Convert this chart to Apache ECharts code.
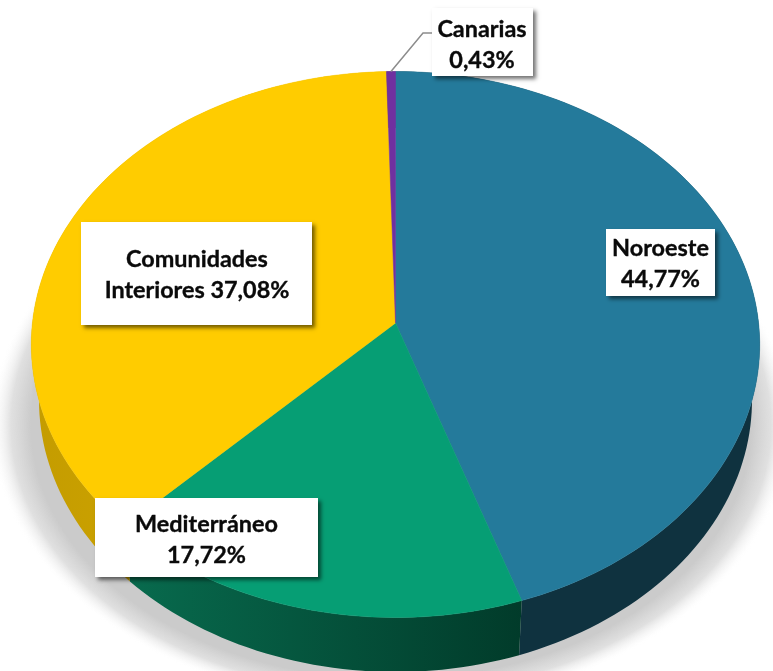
<!DOCTYPE html>
<html><head><meta charset="utf-8">
<style>html,body{margin:0;padding:0;background:#fff}#c{width:773px;height:671px}</style>
<script src="https://cdn.jsdelivr.net/npm/echarts@6/dist/echarts.min.js"></script>
</head><body><div id="c"></div>
<script>
const categories = ['Noroeste', 'Mediterráneo', 'Comunidades Interiores', 'Canarias'];
const values = [44.77, 17.72, 37.08, 0.43];
const labelLines = [['Noroeste', '44,77%'], ['Mediterráneo', '17,72%'], ['Comunidades', 'Interiores 37,08%'], ['Canarias', '0,43%']];
const topColors = ['#247A9B', '#069E74', '#FFCC00', '#7030A0'];
const sideColors = [['#0F323F', '#0F323F'], ['#086B4E', '#013B2A'], ['#C49C00', '#DDB000'], ['#3C1A56', '#3C1A56']];
const boxes = [[606, 229, 109, 67], [95, 498, 223, 79], [81, 222, 231, 103], [432, 8, 101, 68]];
const textCentres = [[660.5, 264], [206.5, 539.5], [197, 275], [482, 44.5]];

const T = {cx: 395.5, cy: 344.5, rx: 364.2, ry: 273, apexY: 323};
const B = {cx: 395.5, cy: 400, rx: 356.5, ry: 272};
const total = values.reduce((a, b) => a + b, 0);
let run = 0;
const spans = values.map(v => { const s = [run / total * 360, (run + v) / total * 360]; run += v; return s; });
const rad = d => d * Math.PI / 180;
function phiOf(deg) {
  const a = (T.cy - T.apexY) / T.ry, s = Math.sin(rad(deg)), c = Math.cos(rad(deg));
  const b = a * c, t = -b + Math.sqrt(b * b + 1 - a * a);
  return Math.atan2(t * s, a + t * c);
}
const onEllipse = (E, phi) => [E.cx + E.rx * Math.sin(phi), E.cy - E.ry * Math.cos(phi)];
function arc(i) {
  const [a, b] = spans[i], out = [], n = Math.max(2, Math.ceil((b - a) / 1.5));
  let last = null;
  for (let k = 0; k <= n; k++) {
    let p = phiOf(a + (b - a) * k / n);
    if (last !== null) { while (p < last - 1e-6) p += 2 * Math.PI; }
    last = p; out.push(p);
  }
  return out;
}
const idx = categories.map((_, i) => i);
const none = {coordinateSystem: 'none', silent: true, animation: false, clip: false};
const chart = echarts.init(document.getElementById('c'), null, {renderer: 'canvas'});
chart.setOption({
  animation: false,
  series: [
    {...none, type: 'custom', z: 1, data: [0], renderItem: () => ({
      type: 'circle', shape: {cx: 0, cy: 0, r: 100}, x: 391, y: 425, scaleX: 4.0, scaleY: 2.82,
      style: {fill: new echarts.graphic.RadialGradient(0.5, 0.5, 0.5, [
        {offset: 0, color: 'rgba(203,203,203,1)'}, {offset: 0.90, color: 'rgba(203,203,203,1)'},
        {offset: 0.95, color: 'rgba(212,212,212,0.72)'}, {offset: 0.98, color: 'rgba(235,235,235,0.3)'}, {offset: 1, color: 'rgba(255,255,255,0)'}])}
    })},
    {...none, type: 'custom', z: 2, data: idx, renderItem: (p, api) => {
      const i = api.value(0), ph = arc(i);
      const pts = ph.map(f => onEllipse(T, f)).concat(ph.slice().reverse().map(f => onEllipse(B, f)));
      const [c0, c1] = sideColors[i];
      return {type: 'polygon', shape: {points: pts}, style: {
        fill: new echarts.graphic.LinearGradient(0, 0, 1, 0, [{offset: 0, color: c0}, {offset: 1, color: c1}])}};
    }},
    {...none, type: 'custom', z: 3, data: idx, renderItem: (p, api) => {
      const i = api.value(0);
      const pts = [[T.cx, T.apexY]].concat(arc(i).map(f => onEllipse(T, f)));
      return {type: 'polygon', shape: {points: pts}, style: {fill: topColors[i], stroke: topColors[i], lineWidth: 0.5}};
    }},
    {...none, type: 'custom', z: 4, data: [0], renderItem: () => ({
      type: 'polyline', shape: {points: [onEllipse(T, phiOf(spans[3][0] + (spans[3][1] - spans[3][0]) / 2)), [423, 33], [432, 33]]},
      style: {stroke: '#8C8C8C', lineWidth: 1.5, fill: 'none'}
    })},
    {...none, type: 'custom', z: 5, data: idx, renderItem: (p, api) => {
      const i = api.value(0), b = boxes[i], c = textCentres[i];
      return {type: 'group', children: [
        {type: 'rect', shape: {x: b[0], y: b[1], width: b[2], height: b[3]}, style: {
          fill: '#fff', shadowColor: 'rgba(0,0,0,0.55)', shadowBlur: 4, shadowOffsetX: 2.5, shadowOffsetY: 2.5}},
        {type: 'text', x: c[0], y: c[1], style: {text: labelLines[i].join('\n'), fill: '#0A0A0A', stroke: '#0A0A0A', lineWidth: 0.35, align: 'center', verticalAlign: 'middle',
          font: '700 23.4px Lato', lineHeight: 31}}
      ]};
    }}
  ]
});
</script></body></html>
